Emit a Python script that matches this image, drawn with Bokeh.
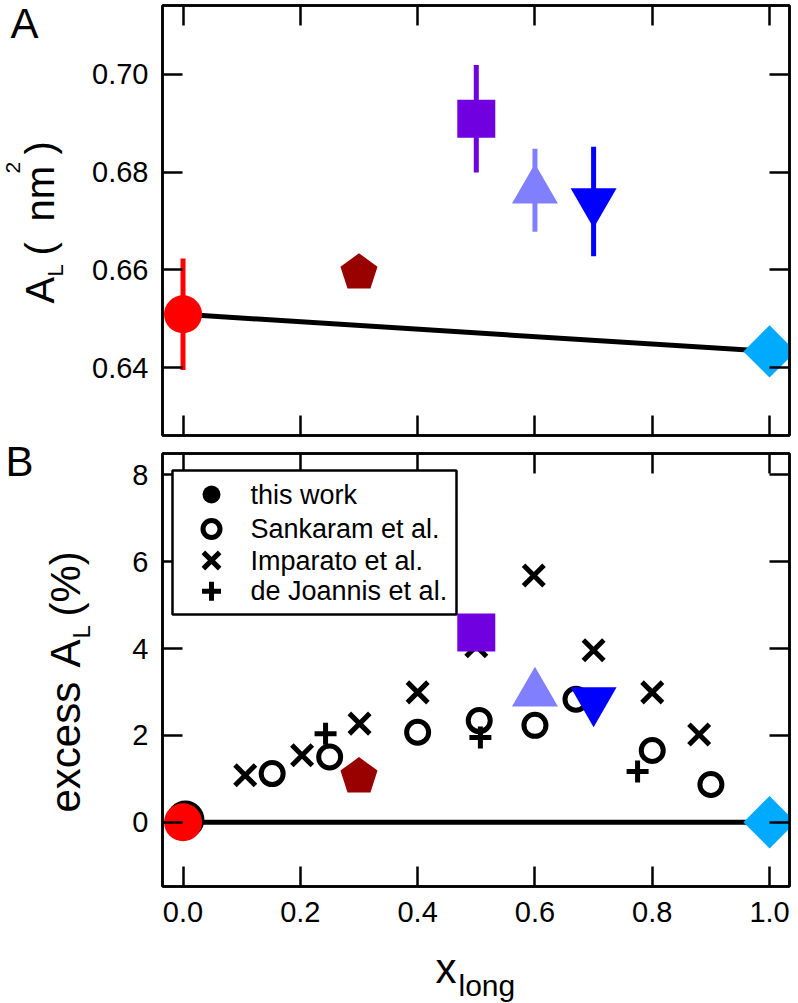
import math
from bokeh.plotting import figure
from bokeh.models import (LinearAxis, FixedTicker, NumeralTickFormatter, Range1d,
                          Label, BoxAnnotation)
from bokeh.layouts import column, row
from bokeh.embed import file_html
from bokeh.resources import INLINE

FONT = "Liberation Sans"

# ---------------- data ----------------
x_ticks = [0.0, 0.2, 0.4, 0.6, 0.8, 1.0]
a_ticks = [0.64, 0.66, 0.68, 0.70]
b_ticks = [0, 2, 4, 6, 8]

# simulations (this work): composition, area per lipid, error, excess area (%)
sim_x = [0.0, 0.3, 0.5, 0.6, 0.7, 1.0]
sim_al = [0.6509, 0.6594, 0.6909, 0.6763, 0.6740, 0.6433]
sim_err = [0.0114, 0.0, 0.0110, 0.0085, 0.0112, 0.0]
sim_excess = [0.0, 1.05, 4.37, 2.97, 2.80, 0.0]

# ideal mixing line
ideal_x = [0.0, 1.0]
ideal_al = [0.6509, 0.6433]
ideal_excess = [0.0, 0.0]

# literature series (panel B)
this_x = [0.004]
this_y = [0.06]
sank_x = [0.152, 0.25, 0.40, 0.505, 0.60, 0.67, 0.80, 0.90]
sank_y = [1.12, 1.50, 2.07, 2.34, 2.23, 2.83, 1.65, 0.87]
imp_x = [0.106, 0.203, 0.301, 0.40, 0.50, 0.598, 0.70, 0.80, 0.88]
imp_y = [1.08, 1.54, 2.27, 2.99, 4.05, 5.68, 3.96, 2.99, 2.02]
dej_x = [0.243, 0.507, 0.775]
dej_y = [2.04, 1.95, 1.17]

legend_labels = ["this work", "Sankaram et al.", "Imparato et al.", "de Joannis et al."]

# ---------------- styles / layout ----------------
sim_style = [
    dict(marker="circle", size=38, color="#FF0000"),
    dict(marker="pentagon", size=19.5, color="#990000"),
    dict(marker="square", size=38, color="#7000E0"),
    dict(marker="triangle", size=46, color="#8080FF"),
    dict(marker="inverted_triangle", size=46, color="#0000FF"),
    dict(marker="diamond", size=37, color="#00AAFF"),
]
series_style = [
    dict(marker="circle", size=38, fill_color="black", line_color=None, line_width=0),
    dict(marker="circle", size=22, fill_color=None, line_color="black", line_width=5),
    dict(marker="x", size=29, fill_color=None, line_color="black", line_width=5),
    dict(marker="cross", size=22, fill_color=None, line_color="black", line_width=5),
]
legend_marker_size = [18, 17, 23, 19]

XR = (-0.035, 1.034)
YA = (0.6261, 0.7141)
YB = (-1.48, 8.49)
TOTAL_W = 798
RIGHT = 9
FRAME_W = 627
FRAME_B_H = 433
MID = 0.35  # distance from baseline to the middle of the text box, in em


def axis_style(ax, ticks, labels, fmt=None, standoff=12):
    ax.ticker = FixedTicker(ticks=ticks)
    ax.major_tick_in = 20
    ax.major_tick_out = 0
    ax.minor_tick_line_color = None
    ax.axis_line_color = "black"
    ax.axis_line_width = 2.5
    ax.major_tick_line_color = "black"
    ax.major_tick_line_width = 2.5
    ax.axis_label = None
    if fmt:
        ax.formatter = NumeralTickFormatter(format=fmt)
    if labels:
        ax.major_label_text_font = FONT
        ax.major_label_text_font_size = "29px"
        ax.major_label_text_color = "black"
        ax.major_label_standoff = standoff
    else:
        ax.major_label_text_font_size = "1px"
        ax.major_label_text_color = None
        ax.major_label_standoff = 0


def make_fig(width, height, yr, left, top, bottom, yt, yfmt, xlabels):
    p = figure(width=width, height=height, x_range=Range1d(*XR), y_range=Range1d(*yr),
               output_backend="svg", toolbar_location=None,
               x_axis_location=None, y_axis_location=None,
               min_border_left=left, min_border_right=RIGHT,
               min_border_top=top, min_border_bottom=bottom)
    p.frame_align = False
    p.grid.visible = False
    p.outline_line_color = "black"
    p.outline_line_width = 2.5
    p.background_fill_color = "white"
    p.border_fill_color = "white"
    b = LinearAxis(); axis_style(b, x_ticks, xlabels, "0.0", 15); p.add_layout(b, "below")
    t = LinearAxis(); axis_style(t, x_ticks, False); p.add_layout(t, "above")
    l = LinearAxis(); axis_style(l, yt, True, yfmt, 14); p.add_layout(l, "left")
    r = LinearAxis(); axis_style(r, yt, False); p.add_layout(r, "right")
    return p


def text_fig(width, height):
    p = figure(width=width, height=height, x_range=Range1d(0, width), y_range=Range1d(0, height),
               output_backend="svg", toolbar_location=None,
               x_axis_location=None, y_axis_location=None,
               min_border=0, min_border_left=0, min_border_right=0,
               min_border_top=0, min_border_bottom=0)
    p.frame_align = False
    p.grid.visible = False
    p.outline_line_color = None
    p.background_fill_color = "white"
    p.border_fill_color = "white"
    return p


def txt(p, text, x, y, size):
    """Horizontal text; (x, y) = start of the baseline, px from the bottom-left."""
    p.add_layout(Label(x=x, y=y + MID * size, x_units="screen", y_units="screen", text=text,
                       text_font=FONT, text_font_size=f"{size}px", text_color="black",
                       text_align="left", text_baseline="middle"))


def vtxt(p, text, x, y, size):
    """Text reading upwards; x = baseline position, y = start, px from the bottom-left."""
    p.add_layout(Label(x=x - MID * size, y=y, x_units="screen", y_units="screen", text=text,
                       text_font=FONT, text_font_size=f"{size}px", text_color="black",
                       angle=math.pi / 2, text_align="left", text_baseline="middle"))


def draw_sim(p, ys, errs=None):
    for i, st in enumerate(sim_style):
        if errs is not None and errs[i] > 0:
            p.segment(x0=[sim_x[i]], y0=[ys[i] - errs[i]], x1=[sim_x[i]], y1=[ys[i] + errs[i]],
                      line_color=st["color"], line_width=5)
    for i, st in enumerate(sim_style):
        if st["marker"] == "pentagon":
            p.ngon(x=[sim_x[i]], y=[ys[i]], radius=st["size"], radius_units="screen", n=5,
                   angle=0.0, fill_color=st["color"], line_color=None)
        elif st["marker"] == "diamond":
            p.scatter(x=[sim_x[i]], y=[ys[i]], marker="square", angle=math.pi / 4,
                      size=st["size"], fill_color=st["color"], line_color=None)
        else:
            p.scatter(x=[sim_x[i]], y=[ys[i]], marker=st["marker"], size=st["size"],
                      fill_color=st["color"], line_color=None)


# ---------------- panel A ----------------
LAB_A_W = 80
A_H = 437
pA = make_fig(TOTAL_W - LAB_A_W, A_H, YA, 82, 5, 2, a_ticks, "0.00", False)
pA.line(ideal_x, ideal_al, line_color="black", line_width=5)
draw_sim(pA, sim_al, sim_err)

labA = text_fig(LAB_A_W, A_H)
txt(labA, "A", 10, A_H - 38, 42)
vtxt(labA, "A", 53, A_H - 303, 40)
vtxt(labA, "L", 63, A_H - 276, 22)
vtxt(labA, "(", 53, A_H - 255, 40)
vtxt(labA, "nm", 53, A_H - 221, 40)
vtxt(labA, "2", 20, A_H - 173, 21)
vtxt(labA, ")", 53, A_H - 154, 40)

# ---------------- panel B ----------------
LAB_B_W = 110
B_TOP = A_H
B_H = 946 - B_TOP
pB = make_fig(TOTAL_W - LAB_B_W, B_H, YB, 52, 453 - B_TOP, 60, b_ticks, "0", True)
pB.line(ideal_x, ideal_excess, line_color="black", line_width=5)
series = [(this_x, this_y), (sank_x, sank_y), (imp_x, imp_y), (dej_x, dej_y)]
for (sx, sy), st in zip(series, series_style):
    pB.scatter(sx, sy, **st)
draw_sim(pB, sim_excess)

# legend (drawn by hand so marker sizes match the original)
pB.add_layout(BoxAnnotation(left=10, right=294, bottom=272, top=416,
                            left_units="screen", right_units="screen",
                            bottom_units="screen", top_units="screen",
                            fill_color="white", fill_alpha=1.0,
                            line_color="black", line_alpha=1.0, line_width=2.5))
row_px = [392, 357.5, 326, 295.3]   # row centres, px above frame bottom
mk_px = 49                           # marker centre, px right of frame left
for k, (lab, st) in enumerate(zip(legend_labels, series_style)):
    mx = XR[0] + mk_px / FRAME_W * (XR[1] - XR[0])
    my = YB[0] + row_px[k] / FRAME_B_H * (YB[1] - YB[0])
    kw = dict(st)
    kw["size"] = legend_marker_size[k]
    pB.scatter([mx], [my], level="overlay", **kw)
    pB.add_layout(Label(x=88, y=row_px[k], x_units="screen", y_units="screen", text=lab,
                        text_font=FONT, text_font_size="27px", text_color="black",
                        text_align="left", text_baseline="middle"))

labB = text_fig(LAB_B_W, B_H)
BB = B_TOP + B_H
txt(labB, "B", 5, BB - 476, 42)
vtxt(labB, "excess", 80, BB - 812, 42)
vtxt(labB, "A", 80, BB - 667, 42)
vtxt(labB, "L", 89, BB - 638, 24)
vtxt(labB, "(%)", 80, BB - 616, 42)

# ---------------- x label ----------------
XL_H = 56
XB = B_TOP + B_H + XL_H
xlab = text_fig(TOTAL_W, XL_H)
txt(xlab, "x", 435, XB - 983, 42)
txt(xlab, "long", 458, XB - 995, 30)

layout = column(row(labA, pA, spacing=0), row(labB, pB, spacing=0), xlab, spacing=0)
open("out.html", "w").write(file_html(layout, INLINE))
